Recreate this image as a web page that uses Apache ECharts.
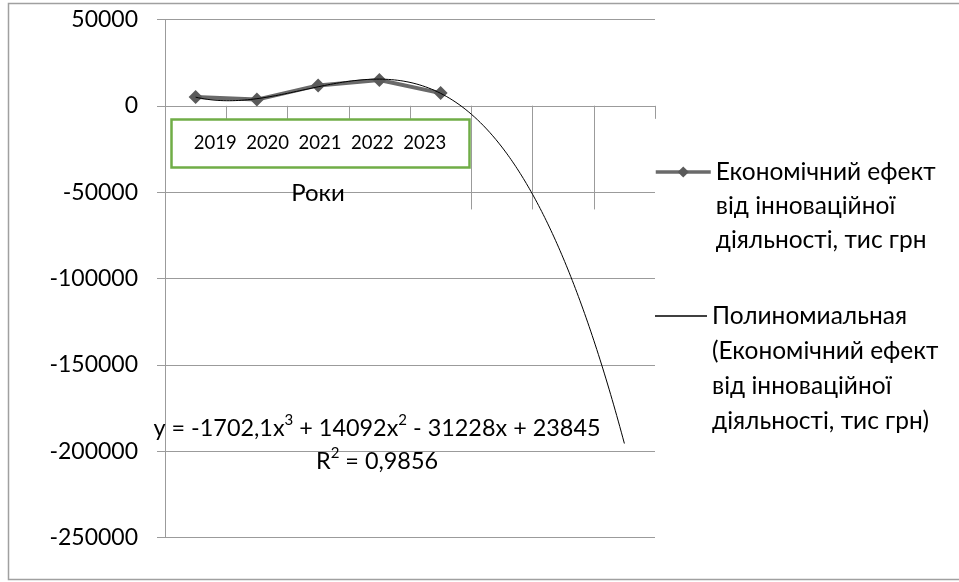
<!DOCTYPE html>
<html>
<head>
<meta charset="utf-8">
<script src="https://cdn.jsdelivr.net/npm/echarts@6/dist/echarts.min.js"></script>
<style>
  html, body { margin: 0; padding: 0; background: #fff; }
  #chart { width: 959px; height: 582px; }
</style>
</head>
<body>
<div id="chart"></div>
<script>
// Economic effect of innovation activity, thousand UAH, by year
const categories = ['2019', '2020', '2021', '2022', '2023'];
const effectValues = [5140, 3600, 11840, 14930, 7380];

// Polynomial (3rd order) trend, coefficients from x^3 down to the constant
const trendCoefs = [-1702.1, 14092, -31228, 23845];
const rSquared = 0.9856;
const forecastPeriods = 3;

// Value axis ticks
const yMin = -250000;
const yMax = 50000;
const yStep = 50000;

const seriesName = 'Економічний ефект\nвід інноваційної\nдіяльності, тис грн';
const trendName = 'Полиномиальная\n(Економічний ефект\nвід інноваційної\nдіяльності, тис грн)';
const axisTitle = 'Роки';

const FONT = 'Lato, "Open Sans", sans-serif';
const GRID_COLOR = '#9b9b9b';

const slotCount = categories.length + forecastPeriods;
const slotLabels = categories.concat(new Array(forecastPeriods).fill(''));

// Trend curve sampled along the period index (1 = first year)
function trendAt(x) {
  return trendCoefs.reduce((acc, c) => acc * x + c, 0);
}
const trendData = [];
for (let k = 0; k <= (slotCount - 1) * 40; k++) {
  const x = 1 + k / 40;
  trendData.push([x, trendAt(x)]);
}

// Equation text with decimal commas and raised exponents
function num(v) { return String(Math.abs(v)).replace('.', ','); }
function sgn(v) { return v < 0 ? '-' : '+'; }
const powers = [3, 2, 1, 0];
function term(i) {
  const p = powers[i];
  const body = '{t|' + num(trendCoefs[i]) + (p > 0 ? 'x' : '') + '}';
  return p > 1 ? body + '{s|' + p + '}' : body;
}
let equation = '{t|y = ' + (trendCoefs[0] < 0 ? '-' : '') + '}' + term(0);
for (let i = 1; i < trendCoefs.length; i++) {
  equation += '{t| ' + sgn(trendCoefs[i]) + ' }' + term(i);
}
const rText = '{t|R}{s|2}{t| = ' + num(rSquared) + '}';

// Long boundary lines to the right of the observed years
const boundaryLines = [];
for (let i = categories.length; i < slotCount; i++) {
  boundaryLines.push([{ coord: [i + 0.5, 0] }, { coord: [i + 0.5, -60000] }]);
}

// Legend entries keep the marker beside the first text line
function firstLineAligned(name) {
  const lines = name.split('\n').length;
  return '\n'.repeat(lines - 1) + name;
}

const richEq = {
  t: { fontFamily: FONT, fontSize: 23.4, lineHeight: 30, color: '#000' },
  s: { fontFamily: FONT, fontSize: 15, lineHeight: 30, verticalAlign: 'top', color: '#000' }
};

const chart = echarts.init(document.getElementById('chart'), null, { renderer: 'canvas' });

chart.setOption({
  backgroundColor: '#fff',
  animation: false,
  textStyle: { fontFamily: FONT },
  grid: { left: 165, right: 304, top: 19.5, bottom: 44.5, containLabel: false },
  xAxis: [
    {
      type: 'category',
      data: slotLabels,
      boundaryGap: true,
      axisLine: { onZero: true, lineStyle: { color: GRID_COLOR, width: 1 } },
      axisTick: { show: true, interval: 0, length: 13, lineStyle: { color: GRID_COLOR } },
      axisLabel: { show: false },
      splitLine: { show: false }
    },
    {
      type: 'value',
      min: 0.5,
      max: slotCount + 0.5,
      show: false
    }
  ],
  yAxis: {
    type: 'value',
    min: yMin,
    max: yMax,
    interval: yStep,
    axisLine: { show: true, lineStyle: { color: GRID_COLOR, width: 1 } },
    axisTick: { show: true, length: 8, lineStyle: { color: GRID_COLOR } },
    axisLabel: {
      margin: 27,
      color: '#000',
      fontFamily: FONT,
      fontSize: 23,
      formatter: v => String(v)
    },
    splitLine: { show: true, lineStyle: { color: GRID_COLOR, width: 1 } }
  },
  legend: [
    {
      data: [seriesName],
      orient: 'vertical',
      left: 654,
      top: 87,
      padding: 0,
      itemWidth: 55,
      itemHeight: 14,
      itemGap: 0,
      formatter: firstLineAligned,
      lineStyle: { width: 3.5, color: '#6a6a6a' },
      textStyle: { fontFamily: FONT, fontSize: 24.5, lineHeight: 34, color: '#000' }
    },
    {
      data: [{ name: trendName, icon: 'rect' }],
      orient: 'vertical',
      left: 655,
      top: 193.5,
      padding: 0,
      itemWidth: 52,
      itemHeight: 1.4,
      formatter: firstLineAligned,
      textStyle: { fontFamily: FONT, fontSize: 24.5, lineHeight: 35, color: '#000' }
    }
  ],
  series: [
    {
      name: seriesName,
      type: 'line',
      xAxisIndex: 0,
      data: effectValues,
      symbol: 'diamond',
      symbolSize: 14,
      itemStyle: { color: '#5a5a5a' },
      lineStyle: { color: '#6a6a6a', width: 4 },
      z: 3
    },
    {
      name: trendName,
      type: 'line',
      xAxisIndex: 1,
      data: trendData,
      symbol: 'none',
      smooth: false,
      itemStyle: { color: '#000' },
      lineStyle: { color: '#000', width: 1 },
      z: 4,
      markLine: {
        silent: true,
        symbol: 'none',
        label: { show: false },
        lineStyle: { color: GRID_COLOR, width: 1, type: 'solid' },
        data: boundaryLines,
        z: 1
      }
    }
  ],
  graphic: [
    {
      type: 'rect',
      shape: { x: 8.5, y: 3.5, width: 960, height: 576 },
      style: { fill: 'none', stroke: '#a0a0a0', lineWidth: 1.5 },
      silent: true,
      z: 0
    },
    {
      type: 'rect',
      shape: { x: 171.5, y: 119.5, width: 298, height: 48 },
      style: { fill: '#fff', stroke: '#70ad47', lineWidth: 2.5 },
      z: 10
    },
    {
      type: 'text',
      x: 320,
      y: 143.5,
      style: {
        text: categories.join('  '),
        font: '18.5px ' + FONT,
        fill: '#000',
        align: 'center',
        verticalAlign: 'middle'
      },
      z: 11
    },
    {
      type: 'text',
      x: 318,
      y: 193,
      style: {
        text: axisTitle,
        font: '24px ' + FONT,
        fill: '#000',
        align: 'center',
        verticalAlign: 'middle'
      },
      z: 11
    },
    {
      type: 'text',
      x: 377,
      y: 428,
      style: {
        text: equation,
        rich: richEq,
        align: 'center',
        verticalAlign: 'middle'
      },
      z: 11
    },
    {
      type: 'text',
      x: 377,
      y: 461,
      style: {
        text: rText,
        rich: richEq,
        align: 'center',
        verticalAlign: 'middle'
      },
      z: 11
    }
  ]
});
</script>
</body>
</html>
